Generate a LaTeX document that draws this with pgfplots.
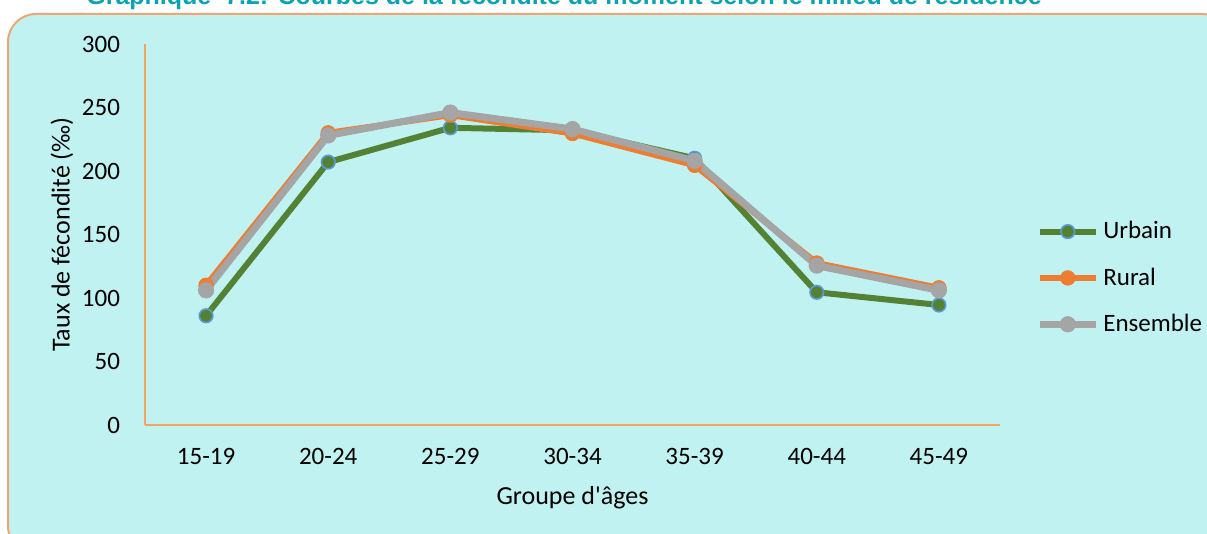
\documentclass[border=0pt]{standalone}
\usepackage{pgfplots}
\pgfplotsset{compat=1.18}
\usepackage{fontspec}
\setmainfont{Carlito}
\newfontfamily\titlefont{Liberation Sans}
\definecolor{bgcyan}{HTML}{C0F2F2}
\definecolor{frameorange}{HTML}{EFA672}
\definecolor{axisorange}{HTML}{F4A460}
\definecolor{titleteal}{HTML}{0AA3B5}
\definecolor{urbgreen}{HTML}{548235}
\definecolor{markblue}{HTML}{5B9BD5}
\definecolor{rurorange}{HTML}{ED7D31}
\definecolor{ensgray}{HTML}{A5A5A5}

\begin{document}
\begin{tikzpicture}[x=0.5pt,y=0.5pt]
  \useasboundingbox (0,0) rectangle (1207,534);
  \clip (0,0) rectangle (1207,534);
  % frame
  \draw[fill=bgcyan, draw=frameorange, line width=1pt, rounded corners=14pt]
    (8,-20) rectangle (1230,520);
  % title, cut by the top edge
  \node[anchor=base, font=\titlefont\bfseries\fontsize{12.5}{14}\selectfont, text=titleteal]
    at (564,529) {Graphique~ 7.2: Courbes de la fécondité du moment selon le milieu de résidence};

  \begin{axis}[
    at={(72.5pt,54.5pt)}, anchor=south west,
    scale only axis,
    width=427.5pt, height=190.5pt,
    xmin=-0.5, xmax=6.5,
    ymin=0, ymax=300,
    xtick={0,...,6},
    xticklabels={15-19,20-24,25-29,30-34,35-39,40-44,45-49},
    ytick={0,50,...,300},
    axis x line*=bottom,
    axis y line*=left,
    axis line style={axisorange, line width=0.6pt},
    major tick length=0pt,
    tick label style={font=\fontsize{12.5}{14}\selectfont},
    /pgf/number format/assume math mode=true,
    xticklabel style={yshift=-8pt},
    yticklabel style={xshift=-9pt},
    xlabel={Groupe d\textquotesingle âges},
    ylabel={Taux de fécondité (‰)},
    label style={font=\fontsize{13}{15}\selectfont},
    xlabel style={yshift=-4pt},
    ylabel style={yshift=-2.5pt},
    legend style={draw=none, fill=none, at={(1.035,0.386)}, anchor=west,
      font=\fontsize{12.5}{14}\selectfont, row sep=9pt},
    legend cell align=left,
    legend image code/.code={
      \draw[mark repeat=2, mark phase=2] plot coordinates {(0pt,0pt) (14pt,0pt) (28pt,0pt)};
    },
  ]
    \addplot[urbgreen, line width=3pt, mark=*, mark size=3.4pt,
      mark options={fill=urbgreen, draw=markblue, line width=0.8pt}]
      coordinates {(0,86) (1,207) (2,234) (3,232) (4,210) (5,104.5) (6,94.5)};
    \addplot[rurorange, line width=3pt, mark=*, mark size=3.6pt,
      mark options={fill=rurorange, draw=rurorange, line width=0.5pt}]
      coordinates {(0,110) (1,230) (2,244) (3,229.5) (4,204.5) (5,127.5) (6,108)};
    \addplot[ensgray, line width=3.5pt, mark=*, mark size=3.8pt,
      mark options={fill=ensgray, draw=ensgray, line width=0.5pt}]
      coordinates {(0,106) (1,228) (2,246) (3,233) (4,208) (5,125.5) (6,106)};
    \legend{Urbain, Rural, Ensemble}
  \end{axis}
\end{tikzpicture}
\end{document}
